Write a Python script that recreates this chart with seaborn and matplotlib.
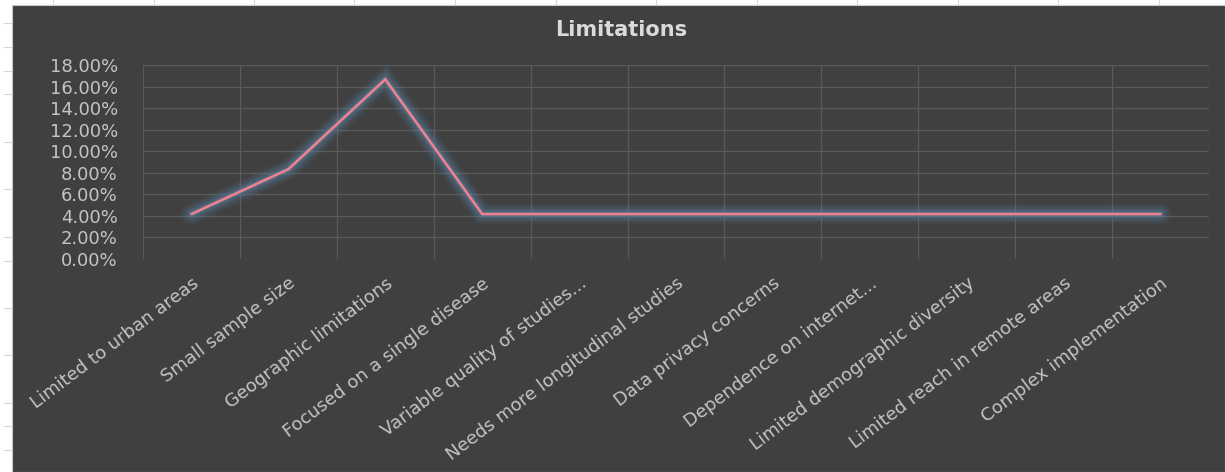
import numpy as np
import pandas as pd
import matplotlib
matplotlib.use("Agg")
import matplotlib.pyplot as plt
import matplotlib.patheffects as pe
from matplotlib.patches import Rectangle
from matplotlib.lines import Line2D
from matplotlib.ticker import PercentFormatter
from matplotlib.transforms import ScaledTranslation
import seaborn as sns

# ---- data -------------------------------------------------------------
limitations = [
    "Limited to urban areas",
    "Small sample size",
    "Geographic limitations",
    "Focused on a single disease",
    "Variable quality of studies...",
    "Needs more longitudinal studies",
    "Data privacy concerns",
    "Dependence on internet...",
    "Limited demographic diversity",
    "Limited reach in remote areas",
    "Complex implementation",
]
shares = [4.17, 8.33, 16.67, 4.17, 4.17, 4.17, 4.17, 4.17, 4.17, 4.17, 4.17]
y_ticks = [0, 2, 4, 6, 8, 10, 12, 14, 16, 18]
title = "Limitations"

df = pd.DataFrame({"limitation": limitations, "share": shares})

# ---- style ------------------------------------------------------------
W, H = 1225, 472
BG = "#404040"
GRID = "#5A5A5A"
TXT = "#C4C4C4"

sns.set_theme(style="dark")
plt.rcParams["font.family"] = ["DejaVu Sans"]

fig = plt.figure(figsize=(W / 100, H / 100), dpi=100, facecolor="white")

# spreadsheet cells peeking around the chart object
for y in [23, 47, 71, 94, 142, 189, 237, 261, 308, 355, 403, 426, 450]:
    fig.add_artist(Line2D([4 / W, 12 / W], [1 - y / H] * 2, transform=fig.transFigure,
                          color="#D4D4D4", linewidth=0.8))
for x in 53 + 100.5 * np.arange(12):
    fig.add_artist(Line2D([x / W] * 2, [1, 1 - 5 / H], transform=fig.transFigure,
                          color="#D4D4D4", linewidth=0.8))

# chart object background
fig.add_artist(Rectangle((12 / W, 0), 1 - 12 / W, 1 - 5 / H, transform=fig.transFigure,
                         facecolor=BG, edgecolor="#C8C8C8", linewidth=0.8, zorder=0))

ax = fig.add_axes([143 / W, 1 - 259 / H, 1066 / W, 194 / H])
ax.set_facecolor(BG)

glow = "#5A82A4"
sns.lineplot(
    data=df, x="limitation", y="share", sort=False, ax=ax,
    color="#EC8290", linewidth=1.9, solid_joinstyle="miter",
    path_effects=[
        pe.Stroke(linewidth=16, foreground=glow, alpha=0.07),
        pe.Stroke(linewidth=13, foreground=glow, alpha=0.1),
        pe.Stroke(linewidth=10, foreground=glow, alpha=0.15),
        pe.Stroke(linewidth=7, foreground=glow, alpha=0.2),
        pe.Stroke(linewidth=4.5, foreground=glow, alpha=0.3),
        pe.Normal(),
    ],
)

n = len(limitations)
ax.set_xlim(-0.5, n - 0.5)
ax.set_ylim(y_ticks[0], y_ticks[-1])
ax.set_yticks(y_ticks)
ax.yaxis.set_major_formatter(PercentFormatter(decimals=2))

ax.set_xticks(range(n))
ax.set_xticks(np.arange(-0.5, n, 1), minor=True)
ax.set_xticklabels(limitations, rotation=37, ha="right", va="top",
                   rotation_mode="anchor")
shift = ScaledTranslation(6 / 100, 0, fig.dpi_scale_trans)
for lab in ax.get_xticklabels():
    lab.set_transform(lab.get_transform() + shift)

ax.grid(False)
ax.grid(which="major", axis="y", color=GRID, linewidth=0.9)
ax.grid(which="minor", axis="x", color=GRID, linewidth=0.9)
ax.tick_params(axis="x", which="both", length=0, pad=11, labelsize=13, labelcolor=TXT)
ax.tick_params(axis="y", length=0, pad=18, labelsize=13, labelcolor=TXT)
for s in ax.spines.values():
    s.set_visible(False)
ax.set_xlabel("")
ax.set_ylabel("")

fig.text(0.507, 1 - 30 / H, title, ha="center", va="center",
         fontsize=15, fontweight="bold", color="#DADADA")

fig.savefig("out.png", dpi=100, facecolor="white")
